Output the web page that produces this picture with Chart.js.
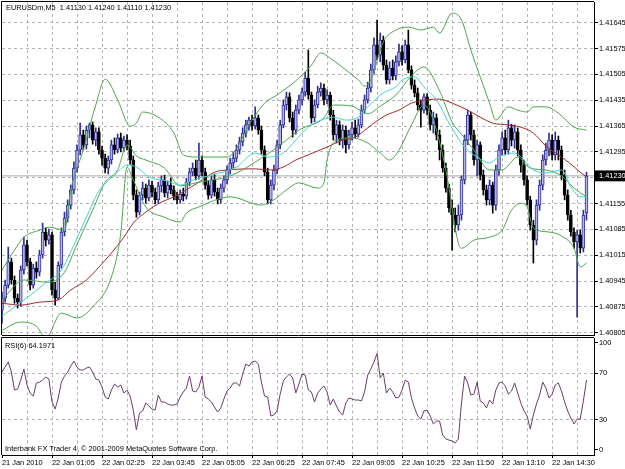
<!DOCTYPE html>
<html>
<head>
<meta charset="utf-8">
<script src="https://cdn.jsdelivr.net/npm/chart.js@4.4.1/dist/chart.umd.min.js"></script>
<style>
html, body { margin: 0; padding: 0; background: #fff; }
#wrap { position: relative; width: 625px; height: 469px; overflow: hidden; background: #fff; }
canvas { position: absolute; left: 0; }
#main { top: 0; }
#rsi { top: 337px; }
.lbl { position: absolute; font-family: "Liberation Sans", Arial, sans-serif; font-size: 7.4px; line-height: 9px; color: #000; white-space: pre; }
</style>
</head>
<body>
<div id="wrap">
  <canvas id="main" width="625" height="337"></canvas>
  <canvas id="rsi" width="625" height="132"></canvas>
  <div class="lbl" style="left:6px;top:3px">EURUSDm,M5  1.41130 1.41240 1.41110 1.41230</div>
  <div class="lbl" style="left:5px;top:341px">RSI(6) 64.1971</div>
  <div class="lbl" style="left:5px;top:444px">Interbank FX Trader 4, © 2001-2009 MetaQuotes Software Corp.</div>
</div>
<script>
// M5 bars, index 0 = first bar on screen
const opens = [
  1.40866,1.40899,1.40934,1.40997,1.40948,1.40899,1.40888,1.40975,1.41043,1.40997,
  1.40934,1.40980,1.40969,1.41016,1.41078,1.41056,1.41070,1.40921,1.40899,1.40988,
  1.41078,1.41116,1.41151,1.41192,1.41251,1.41300,1.41341,1.41314,1.41354,1.41368,
  1.41327,1.41349,1.41300,1.41278,1.41251,1.41273,1.41314,1.41300,1.41333,1.41305,
  1.41327,1.41311,1.41273,1.41178,1.41132,1.41178,1.41197,1.41170,1.41205,1.41186,
  1.41165,1.41203,1.41219,1.41184,1.41205,1.41192,1.41175,1.41165,1.41181,1.41175,
  1.41213,1.41240,1.41251,1.41230,1.41273,1.41240,1.41205,1.41178,1.41219,1.41186,
  1.41165,1.41197,1.41219,1.41246,1.41265,1.41278,1.41300,1.41322,1.41346,1.41368,
  1.41381,1.41365,1.41387,1.41354,1.41300,1.41240,1.41165,1.41205,1.41246,1.41314,
  1.41368,1.41422,1.41444,1.41387,1.41354,1.41408,1.41436,1.41457,1.41495,1.41449,
  1.41387,1.41422,1.41457,1.41468,1.41436,1.41449,1.41395,1.41341,1.41368,1.41327,
  1.41354,1.41314,1.41341,1.41360,1.41343,1.41368,1.41408,1.41436,1.41468,1.41517,
  1.41585,1.41557,1.41598,1.41530,1.41490,1.41522,1.41501,1.41539,1.41566,1.41544,
  1.41585,1.41517,1.41476,1.41455,1.41422,1.41408,1.41444,1.41408,1.41368,1.41387,
  1.41341,1.41300,1.41251,1.41197,1.41143,1.41124,1.41097,1.41124,1.41219,1.41327,
  1.41395,1.41341,1.41273,1.41314,1.41232,1.41192,1.41165,1.41205,1.41151,1.41246,
  1.41300,1.41333,1.41300,1.41360,1.41327,1.41349,1.41300,1.41259,1.41219,1.41165,
  1.41097,1.41056,1.41151,1.41205,1.41273,1.41300,1.41327,1.41287,1.41327,1.41300,
  1.41232,1.41178,1.41124,1.41078,1.41051,1.41070,1.41034,1.41130
];
const highs = [
  1.40915,1.40948,1.41037,1.41007,1.40959,1.40910,1.40986,1.41064,1.41056,1.41007,
  1.40991,1.40997,1.41029,1.41102,1.41089,1.41086,1.41078,1.40942,1.40997,1.41089,
  1.41132,1.41165,1.41205,1.41268,1.41314,1.41373,1.41354,1.41365,1.41373,1.41376,
  1.41360,1.41360,1.41311,1.41289,1.41284,1.41327,1.41333,1.41343,1.41346,1.41338,
  1.41341,1.41327,1.41284,1.41192,1.41186,1.41213,1.41208,1.41219,1.41216,1.41197,
  1.41213,1.41230,1.41232,1.41216,1.41224,1.41203,1.41186,1.41192,1.41197,1.41224,
  1.41251,1.41265,1.41273,1.41319,1.41284,1.41251,1.41216,1.41230,1.41235,1.41197,
  1.41208,1.41230,1.41257,1.41278,1.41295,1.41314,1.41335,1.41360,1.41381,1.41389,
  1.41395,1.41417,1.41395,1.41365,1.41311,1.41251,1.41219,1.41259,1.41327,1.41381,
  1.41436,1.41457,1.41455,1.41403,1.41422,1.41449,1.41468,1.41511,1.41571,1.41457,
  1.41436,1.41473,1.41482,1.41479,1.41463,1.41457,1.41408,1.41381,1.41379,1.41368,
  1.41365,1.41354,1.41376,1.41381,1.41384,1.41422,1.41449,1.41484,1.41533,1.41604,
  1.41652,1.41617,1.41609,1.41544,1.41539,1.41544,1.41555,1.41587,1.41582,1.41598,
  1.41625,1.41528,1.41490,1.41468,1.41436,1.41452,1.41452,1.41422,1.41403,1.41398,
  1.41354,1.41314,1.41265,1.41208,1.41165,1.41143,1.41151,1.41230,1.41341,1.41408,
  1.41403,1.41354,1.41327,1.41322,1.41246,1.41205,1.41219,1.41213,1.41259,1.41314,
  1.41349,1.41354,1.41381,1.41370,1.41368,1.41360,1.41314,1.41273,1.41230,1.41175,
  1.41110,1.41165,1.41219,1.41287,1.41319,1.41346,1.41341,1.41349,1.41338,1.41311,
  1.41246,1.41192,1.41137,1.41089,1.41083,1.41083,1.41137,1.41240
];
const lows = [
  1.40831,1.40888,1.40926,1.40937,1.40885,1.40872,1.40877,1.40964,1.40986,1.40921,
  1.40926,1.40953,1.40959,1.41007,1.41040,1.41045,1.40907,1.40880,1.40894,1.40980,
  1.41067,1.41105,1.41140,1.41181,1.41240,1.41287,1.41300,1.41303,1.41333,1.41316,
  1.41311,1.41289,1.41259,1.41238,1.41235,1.41262,1.41289,1.41292,1.41295,1.41297,
  1.41300,1.41262,1.41165,1.41118,1.41124,1.41165,1.41156,1.41162,1.41173,1.41154,
  1.41156,1.41186,1.41173,1.41170,1.41181,1.41165,1.41154,1.41156,1.41162,1.41167,
  1.41203,1.41230,1.41219,1.41221,1.41230,1.41194,1.41167,1.41170,1.41175,1.41154,
  1.41156,1.41186,1.41208,1.41235,1.41251,1.41268,1.41289,1.41311,1.41335,1.41354,
  1.41354,1.41357,1.41343,1.41289,1.41230,1.41154,1.41154,1.41192,1.41235,1.41303,
  1.41360,1.41408,1.41376,1.41335,1.41343,1.41398,1.41422,1.41446,1.41438,1.41373,
  1.41376,1.41414,1.41446,1.41422,1.41425,1.41381,1.41327,1.41319,1.41314,1.41305,
  1.41292,1.41303,1.41327,1.41333,1.41335,1.41360,1.41400,1.41427,1.41457,1.41506,
  1.41544,1.41539,1.41517,1.41479,1.41479,1.41490,1.41490,1.41528,1.41530,1.41536,
  1.41509,1.41465,1.41444,1.41408,1.41362,1.41400,1.41395,1.41354,1.41346,1.41327,
  1.41273,1.41240,1.41186,1.41132,1.41029,1.41078,1.41083,1.41110,1.41208,1.41314,
  1.41327,1.41259,1.41230,1.41219,1.41178,1.41151,1.41151,1.41129,1.41137,1.41232,
  1.41287,1.41287,1.41289,1.41311,1.41305,1.41284,1.41240,1.41205,1.41151,1.41083,
  1.40994,1.41043,1.41137,1.41192,1.41259,1.41284,1.41273,1.41273,1.41273,1.41219,
  1.41165,1.41110,1.41067,1.41034,1.40847,1.41021,1.41024,1.41110
];
const closes = [
  1.40899,1.40934,1.40997,1.40948,1.40899,1.40888,1.40975,1.41043,1.40997,1.40934,
  1.40980,1.40969,1.41016,1.41078,1.41056,1.41070,1.40921,1.40899,1.40988,1.41078,
  1.41116,1.41151,1.41192,1.41251,1.41300,1.41341,1.41314,1.41354,1.41368,1.41327,
  1.41349,1.41300,1.41278,1.41251,1.41273,1.41314,1.41300,1.41333,1.41305,1.41327,
  1.41311,1.41273,1.41178,1.41132,1.41178,1.41197,1.41170,1.41205,1.41186,1.41165,
  1.41203,1.41219,1.41184,1.41205,1.41192,1.41175,1.41165,1.41181,1.41175,1.41213,
  1.41240,1.41251,1.41230,1.41273,1.41240,1.41205,1.41178,1.41219,1.41186,1.41165,
  1.41197,1.41219,1.41246,1.41265,1.41278,1.41300,1.41322,1.41346,1.41368,1.41381,
  1.41365,1.41387,1.41354,1.41300,1.41240,1.41165,1.41205,1.41246,1.41314,1.41368,
  1.41422,1.41444,1.41387,1.41354,1.41408,1.41436,1.41457,1.41495,1.41449,1.41387,
  1.41422,1.41457,1.41468,1.41436,1.41449,1.41395,1.41341,1.41368,1.41327,1.41354,
  1.41314,1.41341,1.41360,1.41343,1.41368,1.41408,1.41436,1.41468,1.41517,1.41585,
  1.41557,1.41598,1.41530,1.41490,1.41522,1.41501,1.41539,1.41566,1.41544,1.41585,
  1.41517,1.41476,1.41455,1.41422,1.41408,1.41444,1.41408,1.41368,1.41387,1.41341,
  1.41300,1.41251,1.41197,1.41143,1.41124,1.41097,1.41124,1.41219,1.41327,1.41395,
  1.41341,1.41273,1.41314,1.41232,1.41192,1.41165,1.41205,1.41151,1.41246,1.41300,
  1.41333,1.41300,1.41360,1.41327,1.41349,1.41300,1.41259,1.41219,1.41165,1.41097,
  1.41056,1.41151,1.41205,1.41273,1.41300,1.41327,1.41287,1.41327,1.41300,1.41232,
  1.41178,1.41124,1.41078,1.41051,1.41070,1.41034,1.41124,1.41230
];

// indicator lines at the listed bar numbers
const redBars = [0,6,12,18,22,27,31,35,39,42,46,51,55,59,63,68,72,81,86,90,94,98,104,109,113,117,120,123,127,131,136,140,144,149,153,157,162,166,170,174,178,182,185,187];
const redVals = [1.40885,1.40880,1.40888,1.40894,1.40921,1.40948,1.40983,1.41021,1.41064,1.41102,1.41132,1.41159,1.41173,1.41192,1.41213,1.41240,1.41246,1.41249,1.41246,1.41254,1.41273,1.41287,1.41308,1.41327,1.41335,1.41360,1.41379,1.41395,1.41408,1.41427,1.41436,1.41438,1.41427,1.41408,1.41389,1.41373,1.41368,1.41362,1.41346,1.41311,1.41287,1.41262,1.41240,1.41227];

const cyanBars = [0,4,10,14,19,23,27,31,36,40,43,47,53,57,61,67,75,81,85,90,94,98,102,106,110,114,117,122,126,128,132,135,139,143,148,152,156,159,164,167,170,174,179,182,185,187];
const cyanVals = [1.40850,1.40875,1.40913,1.40940,1.40975,1.41043,1.41118,1.41189,1.41232,1.41259,1.41254,1.41227,1.41216,1.41205,1.41219,1.41232,1.41254,1.41292,1.41281,1.41292,1.41327,1.41362,1.41381,1.41389,1.41381,1.41389,1.41417,1.41455,1.41471,1.41490,1.41498,1.41471,1.41436,1.41373,1.41308,1.41281,1.41265,1.41281,1.41292,1.41273,1.41246,1.41238,1.41246,1.41200,1.41173,1.41173];

const upperBars = [0,4,7,12,15,20,22,26,30,33,37,41,43,45,50,55,58,62,72,80,84,88,95,99,102,105,110,114,116,118,122,126,130,134,138,140,144,147,150,153,156,158,162,165,168,170,174,178,183,187];
const upperVals = [1.40975,1.41029,1.41064,1.41083,1.41091,1.41083,1.41192,1.41300,1.41422,1.41492,1.41436,1.41365,1.41373,1.41403,1.41389,1.41346,1.41287,1.41281,1.41281,1.41381,1.41427,1.41449,1.41495,1.41530,1.41563,1.41549,1.41517,1.41490,1.41473,1.41490,1.41593,1.41625,1.41633,1.41625,1.41633,1.41617,1.41671,1.41652,1.41571,1.41498,1.41427,1.41381,1.41417,1.41408,1.41403,1.41417,1.41417,1.41400,1.41362,1.41354];

const middleBars = [0,7,15,20,24,29,33,37,40,43,46,52,57,63,73,83,91,95,103,106,112,117,121,126,131,135,140,144,147,151,156,160,165,169,174,179,183,187];
const middleVals = [1.40894,1.40948,1.40942,1.40969,1.41045,1.41137,1.41213,1.41246,1.41314,1.41284,1.41273,1.41251,1.41203,1.41213,1.41230,1.41278,1.41327,1.41354,1.41387,1.41422,1.41419,1.41398,1.41419,1.41449,1.41501,1.41525,1.41460,1.41376,1.41343,1.41300,1.41246,1.41246,1.41281,1.41251,1.41246,1.41230,1.41197,1.41173];

const lowerBars = [0,6,11,14,19,24,29,35,38,40,42,46,52,57,59,63,73,83,87,91,95,101,103,104,107,112,117,121,124,127,131,135,138,142,146,147,151,156,160,163,166,168,170,175,179,183,185,187];
const lowerVals = [1.40812,1.40834,1.40823,1.40791,1.40858,1.40845,1.40875,1.40956,1.41075,1.41254,1.41219,1.41146,1.41118,1.41105,1.41129,1.41146,1.41173,1.41151,1.41165,1.41192,1.41211,1.41197,1.41211,1.41273,1.41327,1.41333,1.41319,1.41292,1.41273,1.41300,1.41368,1.41422,1.41381,1.41246,1.41048,1.41034,1.41056,1.41064,1.41083,1.41137,1.41156,1.41146,1.41089,1.41078,1.41067,1.41034,1.40983,1.40994];

const rsiValues = [
  71.1,75.4,79.7,71.1,55.7,56.5,64.2,73.7,60.0,53.1,
  50.5,61.7,62.5,64.2,66.8,65.1,45.4,39.4,48.8,62.5,
  67.7,71.1,76.2,80.5,75.4,72.8,72.8,74.5,75.4,71.1,
  65.1,64.2,58.2,49.7,48.0,55.7,60.8,58.2,60.0,53.1,
  55.7,50.5,38.5,21.5,36.0,37.7,44.5,42.0,39.4,38.5,
  51.4,45.4,45.4,43.7,42.8,42.8,43.7,49.7,54.0,57.4,
  67.7,54.8,54.0,58.2,67.7,49.7,48.0,45.4,41.1,36.8,
  40.3,48.0,54.8,57.4,61.7,61.7,59.1,69.4,77.9,76.2,
  79.7,80.5,77.9,62.5,50.5,49.7,33.4,34.3,37.7,52.2,
  63.4,66.8,69.4,66.0,53.1,60.8,69.4,68.5,55.7,54.0,
  45.4,53.1,56.5,59.1,54.0,42.8,48.0,42.0,36.8,34.3,
  44.5,48.8,48.0,47.1,47.1,46.3,54.0,68.5,73.7,79.7,
  87.0,66.0,70.2,53.1,57.4,54.0,48.8,49.7,55.7,64.2,
  62.5,48.8,40.3,33.4,30.8,37.7,38.5,33.4,26.6,29.1,
  29.1,17.1,13.7,12.8,12.0,10.3,13.7,44.5,67.7,61.7,
  51.4,52.2,62.5,46.3,44.5,40.3,47.1,43.7,55.7,61.7,
  62.5,59.1,52.2,54.8,61.7,53.1,44.5,37.7,33.4,22.3,
  34.3,43.7,51.4,62.5,57.4,48.8,52.2,60.0,61.7,54.8,
  45.4,37.7,31.7,26.6,30.8,30.8,46.3,64.1971
];

const priceTicks = [1.40805,1.40875,1.40945,1.41015,1.41085,1.41155,1.41225,1.41295,1.41365,1.41435,1.41505,1.41575,1.41645];
const hiddenTick = 1.41225;
const BID = 1.41230;
const timeLabels = ['21 Jan 2010','22 Jan 01:05','22 Jan 02:25','22 Jan 03:45','22 Jan 05:05','22 Jan 06:25',
                    '22 Jan 07:45','22 Jan 09:05','22 Jan 10:25','22 Jan 11:50','22 Jan 13:10','22 Jan 14:30'];
const rsiTickPos = [4.3, 30, 70, 96.2];
const rsiTickLabels = ['0', '30', '70', '100'];

const X_MIN = 0, X_MAX = 189.4;
const Y_MIN = 1.40799, Y_MAX = 1.41701;
const FONT = {family: '"Liberation Sans", Arial, sans-serif', size: 7.4};
const GRID = '#b4b4b4';
const NONE = 'rgba(0,0,0,0)';
const BULL_FILL = '#b4b4f0', BULL_LINE = '#2e2e98', BEAR = '#000000';
const GREEN = '#4aa64a', CYAN = '#44d2d2', RED = '#a02828', RSI_COLOR = '#6e3c6e';

const gridBars = [];
for (let b = 8; b < X_MAX; b += 8) gridBars.push(b);

const isBull = i => closes[i] >= opens[i];
const pts = (xs, ys) => xs.map((x, i) => ({x: x, y: ys[i]}));
const near = (a, b) => Math.abs(a - b) < 1e-9;

const framePlugin = {
  id: 'frame',
  afterDraw(chart) {
    const {ctx, chartArea: a} = chart;
    ctx.save();
    ctx.strokeStyle = '#000';
    ctx.lineWidth = 1;
    ctx.beginPath();
    ctx.moveTo(Math.round(a.left) - 0.5, a.bottom);
    ctx.lineTo(Math.round(a.left) - 0.5, Math.round(a.top) - 0.5);
    ctx.lineTo(a.right, Math.round(a.top) - 0.5);
    ctx.stroke();
    ctx.restore();
  }
};

const lineDs = (data, color, order) => ({
  type: 'line', data: data, borderColor: color, borderWidth: 1,
  pointRadius: 0, tension: 0.35, cubicInterpolationMode: 'monotone', order: order
});

new Chart(document.getElementById('main'), {
  type: 'bar',
  data: {
    datasets: [
      {type: 'line', data: [{x: X_MIN, y: BID}, {x: X_MAX, y: BID}], borderColor: '#a8a8a8', borderWidth: 1, pointRadius: 0, order: 9},
      {data: pts(lows.map((l, i) => i), lows.map((l, i) => [l, highs[i]])), barThickness: 1, grouped: false,
       backgroundColor: c => isBull(c.dataIndex) ? BULL_LINE : BEAR, order: 8},
      {data: pts(opens.map((o, i) => i), opens.map((o, i) => [o, closes[i]])), barThickness: 3, grouped: false,
       backgroundColor: c => isBull(c.dataIndex) ? BULL_FILL : BEAR,
       borderColor: c => isBull(c.dataIndex) ? BULL_LINE : BEAR, borderWidth: 1, borderSkipped: false, order: 7},
      lineDs(pts(redBars, redVals), RED, 5),
      lineDs(pts(upperBars, upperVals), GREEN, 4),
      lineDs(pts(middleBars, middleVals), GREEN, 4),
      lineDs(pts(lowerBars, lowerVals), GREEN, 4),
      lineDs(pts(cyanBars, cyanVals), CYAN, 3)
    ]
  },
  options: {
    responsive: false,
    animation: false,
    layout: {padding: {left: 2, top: 2, right: 0, bottom: 2}},
    plugins: {legend: {display: false}, tooltip: {enabled: false}},
    scales: {
      x: {
        type: 'linear', min: X_MIN, max: X_MAX, offset: false,
        afterBuildTicks: s => { s.ticks = gridBars.map(v => ({value: v})); },
        afterFit: s => { s.height = 0; s.paddingLeft = 0; s.paddingRight = 0; },
        ticks: {display: false},
        grid: {offset: false, color: GRID, drawTicks: false},
        border: {display: true, color: '#000', dash: [3, 3]}
      },
      y: {
        type: 'linear', position: 'right', min: Y_MIN, max: Y_MAX, beginAtZero: false,
        afterBuildTicks: s => {
          const t = priceTicks.map(v => ({value: v}));
          t.splice(7, 0, {value: BID});
          s.ticks = t;
        },
        afterFit: s => { s.width = 31; s.paddingTop = 0; s.paddingBottom = 0; },
        ticks: {
          autoSkip: false, font: FONT, padding: 1,
          color: c => near(c.tick.value, BID) ? '#fff' : '#000',
          callback: v => near(v, hiddenTick) ? '' : v.toFixed(5),
          showLabelBackdrop: c => near(c.tick.value, BID),
          backdropColor: '#000',
          backdropPadding: {left: 5, right: 3, top: 1, bottom: 1}
        },
        grid: {
          color: c => (c.tick && near(c.tick.value, BID)) ? NONE : GRID,
          tickColor: '#000', tickLength: 4
        },
        border: {display: true, color: '#000', dash: [3, 3]}
      }
    }
  },
  plugins: [framePlugin]
});

new Chart(document.getElementById('rsi'), {
  type: 'line',
  data: {
    datasets: [{data: pts(rsiValues.map((v, i) => i), rsiValues), borderColor: RSI_COLOR, borderWidth: 1, pointRadius: 0, tension: 0}]
  },
  options: {
    responsive: false,
    animation: false,
    layout: {padding: {left: 2, top: 1.3, right: 0, bottom: 0}},
    plugins: {legend: {display: false}, tooltip: {enabled: false}},
    scales: {
      x: {
        type: 'linear', min: X_MIN, max: X_MAX, offset: false,
        afterBuildTicks: s => { s.ticks = [0].concat(gridBars).map(v => ({value: v})); },
        afterFit: s => { s.height = 14; s.paddingLeft = 0; s.paddingRight = 0; },
        ticks: {
          autoSkip: false, maxRotation: 0, minRotation: 0, align: 'start', padding: 1,
          font: FONT, color: '#000',
          callback: v => (v % 16 === 0) ? timeLabels[v / 16] : ''
        },
        grid: {
          offset: false,
          color: c => (c.tick && c.tick.value > 0) ? GRID : NONE,
          tickColor: c => (c.tick && c.tick.value % 16 === 0) ? '#000' : NONE,
          tickLength: 3
        },
        border: {display: true, color: '#000', dash: [3, 3]}
      },
      y: {
        type: 'linear', position: 'right', min: 0, max: 100,
        afterBuildTicks: s => { s.ticks = rsiTickPos.map(v => ({value: v})); },
        afterFit: s => { s.width = 31; s.paddingTop = 0; s.paddingBottom = 0; },
        ticks: {autoSkip: false, font: FONT, color: '#000', padding: 1, callback: (v, i) => rsiTickLabels[i]},
        grid: {
          color: c => (c.tick && (c.tick.value === 30 || c.tick.value === 70)) ? GRID : NONE,
          tickColor: '#000', tickLength: 4
        },
        border: {display: true, color: '#000', dash: [3, 3]}
      }
    }
  },
  plugins: [framePlugin]
});
</script>
</body>
</html>
